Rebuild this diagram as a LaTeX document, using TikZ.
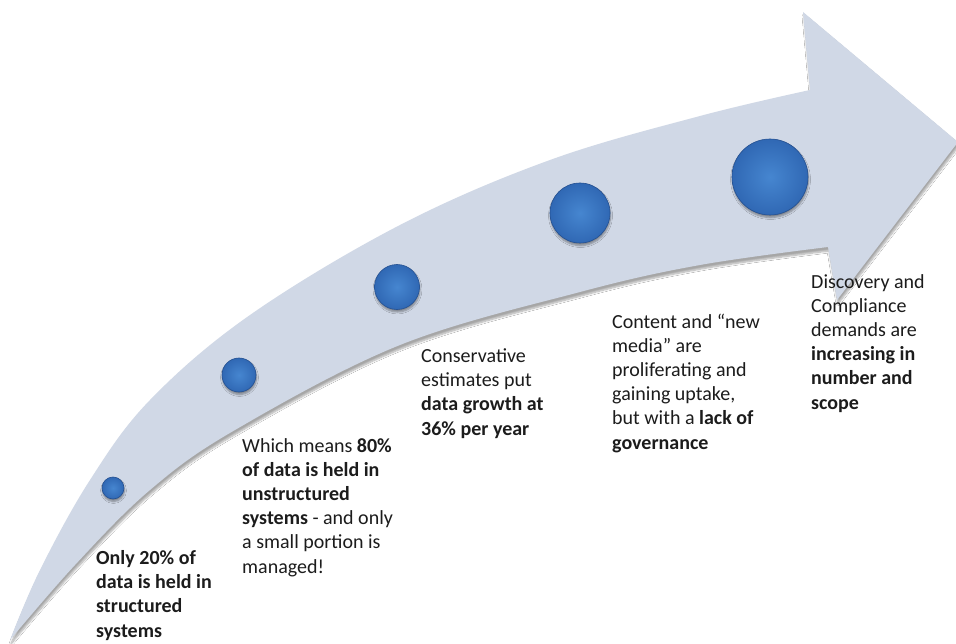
\documentclass[tikz,border=0pt]{standalone}
\usepackage{fontspec}
\setmainfont{Carlito}
\usetikzlibrary{shadows.blur}
\definecolor{arrowcol}{RGB}{208,216,230}
\definecolor{ballin}{RGB}{70,134,208}
\definecolor{ballout}{RGB}{48,104,180}
\definecolor{ballrim}{RGB}{36,80,145}
\definecolor{txtcol}{RGB}{28,28,28}
\tikzset{
  arrowbody/.style={fill=arrowcol, blur shadow={shadow xshift=1pt, shadow yshift=-4pt, shadow opacity=35, shadow blur steps=8}},
  ball/.style={circle, inner sep=0pt, minimum size=#1, shading=radial, inner color=ballin, outer color=ballout, draw=ballrim, line width=0.6pt,
    blur shadow={shadow xshift=0.5pt, shadow yshift=-2.5pt, shadow opacity=40, shadow blur steps=6}},
  caption/.style={anchor=base west, align=left, inner sep=0pt, text=txtcol, font=\fontsize{20pt}{24.2pt}\selectfont}
}
\begin{document}
\begin{tikzpicture}[x=1pt,y=-1pt]
\useasboundingbox (0,0) rectangle (956,644);
\fill[white] (0,0) rectangle (956,644);
% the curved arrow
\path[arrowbody] plot[smooth, tension=0.6] coordinates {(10,640) (40,570) (90,480) (150,400) (250,315) (400,225) (550,160) (700,116) (810,90)}
  -- (803,12) -- (958,142) -- (837,300) -- (828,247)
  -- plot[smooth, tension=0.6] coordinates {(828,247) (700,265) (580,292) (400,345) (235,430) (150,490) (75,565) (10,640)} -- cycle;
% spheres
\node[ball=22pt] (s1) at (113,488) {};
\node[ball=34pt] (s2) at (239,375) {};
\node[ball=45pt] (s3) at (397,287) {};
\node[ball=60pt] (s4) at (580,213) {};
\node[ball=76pt] (s5) at (770,177) {};
% texts (anchor = baseline of the last line)
\node[caption] (t1) at (96,637) {\textbf{Only 20\% of}\\\textbf{data is held in}\\\textbf{structured}\\\textbf{systems}};
\node[caption] (t2) at (242,573) {Which means \textbf{80\%}\\\textbf{of data is held in}\\\textbf{unstructured}\\\textbf{systems} - and only\\a small portion is\\managed!};
\node[caption] (t3) at (421,435) {Conservative\\estimates put\\\textbf{data growth at}\\\textbf{36\% per year}};
\node[caption] (t4) at (612,449) {Content and “new\\media” are\\proliferating and\\gaining uptake,\\but with a \textbf{lack of}\\\textbf{governance}};
\node[caption] (t5) at (811,409) {Discovery and\\Compliance\\demands are\\\textbf{increasing in}\\\textbf{number and}\\\textbf{scope}};
\end{tikzpicture}
\end{document}
